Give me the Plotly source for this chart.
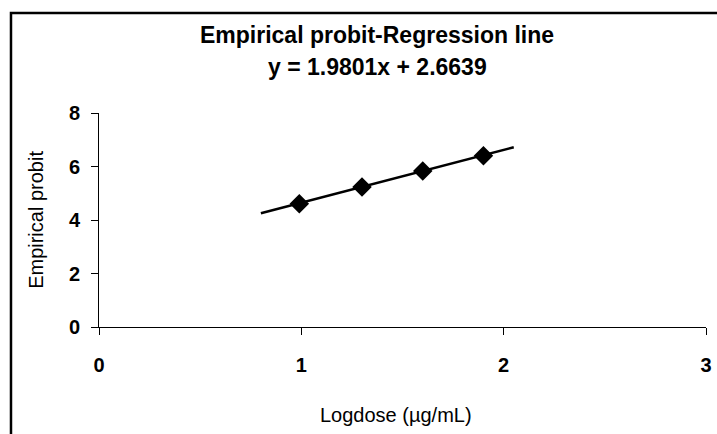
import plotly.graph_objects as go

# pontos observados (log da dose x probit empírico)
logdose = [0.99, 1.30, 1.60, 1.90]
probit = [4.61, 5.23, 5.83, 6.40]

trend_x = [0.80, 2.05]
trend_y = [4.25, 6.72]

x_ticks = [0, 1, 2, 3]
y_ticks = [0, 2, 4, 6, 8]

titulo = ["Empirical probit-Regression line", "y = 1.9801x + 2.6639"]

fig = go.Figure()
fig.add_trace(go.Scatter(x=trend_x, y=trend_y, mode="lines",
                         line=dict(color="black", width=2.5), showlegend=False))
fig.add_trace(go.Scatter(x=logdose, y=probit, mode="markers",
                         marker=dict(symbol="diamond", size=15, color="black"),
                         showlegend=False))

fig.update_layout(
    width=717, height=434,
    margin=dict(l=99, r=11, t=113, b=107),
    plot_bgcolor="white", paper_bgcolor="white",
    font=dict(family="Liberation Sans, Arial", color="black"),
    xaxis=dict(range=[0, 3], tickvals=x_ticks, showgrid=False, zeroline=False,
               showline=True, linecolor="black", linewidth=1, automargin=False,
               ticks="outside", ticklen=7, tickcolor="black", ticklabelstandoff=13,
               tickfont=dict(size=20, weight="bold")),
    yaxis=dict(range=[0, 8], tickvals=y_ticks, showgrid=False, zeroline=False,
               showline=True, linecolor="black", linewidth=1, automargin=False,
               ticks="outside", ticklen=7, tickcolor="black", ticklabelstandoff=7,
               tickfont=dict(size=20, weight="bold")),
)

# título em duas linhas, centrado na área do gráfico (estilo Excel)
fig.add_annotation(text=titulo[0], xref="paper", yref="paper", x=0.458, y=1.364,
                   showarrow=False, yanchor="middle",
                   font=dict(size=23, weight="bold"))
fig.add_annotation(text=titulo[1], xref="paper", yref="paper", x=0.458, y=1.215,
                   showarrow=False, yanchor="middle",
                   font=dict(size=23, weight="bold"))

# títulos dos eixos
fig.add_annotation(text="Logdose (µg/mL)", xref="paper", yref="paper", x=0.489, y=-0.411,
                   showarrow=False, yanchor="middle", font=dict(size=20))
fig.add_annotation(text="Empirical probit", xref="paper", yref="paper", x=-0.104, y=0.5,
                   showarrow=False, textangle=-90, xanchor="center", font=dict(size=20))

# moldura do gráfico (cortada à direita e embaixo, como no original)
fig.add_shape(type="rect", xref="paper", yref="paper",
              x0=-0.145, x1=1.2, y0=-1.0, y1=1.467,
              line=dict(color="black", width=2.5), layer="below")

# tira a margem padrão do <body> para a figura começar no canto da janela
fig.write_html("out.html", config={"displayModeBar": False},
               post_script="document.body.style.margin='0';")
